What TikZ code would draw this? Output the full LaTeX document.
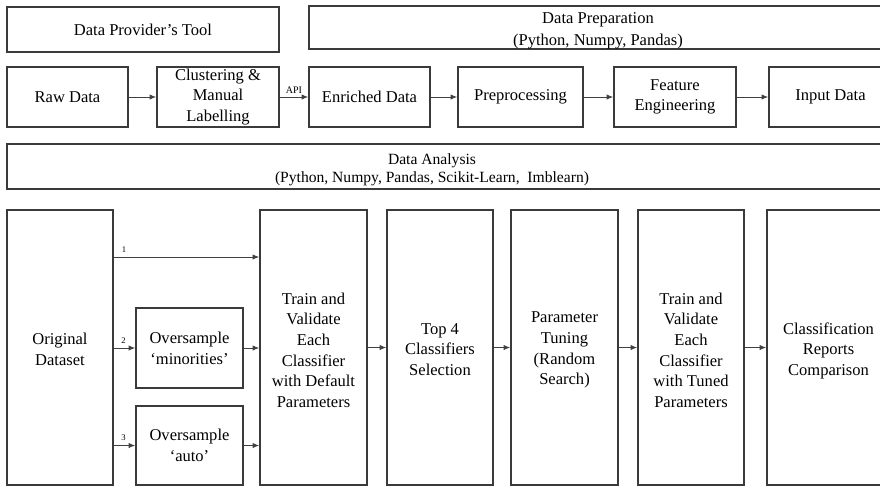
\documentclass[tikz,border=0pt]{standalone}
\usepackage{fontspec}
\setmainfont{Liberation Serif}
\usetikzlibrary{fit,arrows.meta}
\definecolor{boxc}{HTML}{3A3A3A}
\definecolor{arrc}{HTML}{404040}
\begin{document}
\begin{tikzpicture}[x=0.75pt,y=-0.75pt,
  box/.style={draw=boxc,line width=1.1pt,inner sep=0pt},
  arr/.style={draw=arrc,line width=0.7pt,-{Latex[length=5pt,width=4pt]}},
  txt/.style={inner sep=0pt,align=center,font=\fontsize{12.4}{15.5}\selectfont},
  small/.style={inner sep=0pt,font=\fontsize{7.5}{9}\selectfont},
  tiny/.style={inner sep=0pt,font=\fontsize{6.5}{8}\selectfont}]
\path[use as bounding box,clip] (0,0) rectangle (880,487);
% row 1
\node[box,fit={(7,7) (279,52)}] (tool) {};
\node[txt] (tooltxt) at (tool.center) {Data Provider’s Tool};
\node[box,fit={(309,6) (890,49)}] (prep) {};
\node[txt,font=\fontsize{12.4}{16.8}\selectfont] (preptxt) at (598,31) {Data Preparation\\(Python, Numpy, Pandas)};
% row 2
\node[box,fit={(7,67) (128,127)}] (raw) {};
\node[txt] (rawtxt) at (raw.center) {Raw Data};
\node[box,fit={(157,67) (279,127)}] (clus) {};
\node[txt] (clustxt) at (clus.center) {Clustering \&\\Manual\\Labelling};
\node[box,fit={(309,67) (430,127)}] (enr) {};
\node[txt] (enrtxt) at (enr.center) {Enriched Data};
\node[box,fit={(458,67) (583,127)}] (pre) {};
\node[txt] (pretxt) at (pre.center) {Preprocessing};
\node[box,fit={(614,67) (736,127)}] (feat) {};
\node[txt] (feattxt) at (feat.center) {Feature\\Engineering};
\node[box,fit={(769,67) (892,127)}] (inp) {};
\node[txt] (inptxt) at (inp.center) {Input Data};
\draw[arr] (raw) -- (clus);
\draw[arr] (clus) -- node[small,above=2pt] (api) {API} (enr);
\draw[arr] (enr) -- (pre);
\draw[arr] (pre) -- (feat);
\draw[arr] (feat) -- (inp);
% row 3
\node[box,fit={(7,144) (900,189)}] (ana) {};
\node[txt,font=\fontsize{11.7}{13.6}\selectfont] (anatxt) at (432,169.5) {Data Analysis\\(Python, Numpy, Pandas, Scikit-Learn,\ \ Imblearn)};
% row 4
\node[box,fit={(7,210) (113,485)}] (orig) {};
\node[txt] (origtxt) at ([yshift=-1.5pt]orig.center) {Original\\Dataset};
\node[box,fit={(136,308) (243,388)}] (omin) {};
\node[txt] (omintxt) at (omin.center) {Oversample\\‘minorities’};
\node[box,fit={(136,406) (243,485)}] (oauto) {};
\node[txt] (oautotxt) at (oauto.center) {Oversample\\‘auto’};
\node[box,fit={(260,210) (367,485)}] (train) {};
\node[txt] (traintxt) at ([yshift=-2pt]train.center) {Train and\\Validate\\Each\\Classifier\\with Default\\Parameters};
\node[box,fit={(387,210) (493,485)}] (top) {};
\node[txt] (toptxt) at ([yshift=-1.5pt]top.center) {Top 4\\Classifiers\\Selection};
\node[box,fit={(511,210) (618,485)}] (param) {};
\node[txt] (paramtxt) at ([yshift=-2pt]param.center) {Parameter\\Tuning\\(Random\\Search)};
\node[box,fit={(638,210) (744,485)}] (tuned) {};
\node[txt] (tunedtxt) at ([yshift=-2pt]tuned.center) {Train and\\Validate\\Each\\Classifier\\with Tuned\\Parameters};
\node[box,fit={(767,210) (890,485)}] (rep) {};
\node[txt] (reptxt) at ([yshift=-2.5pt]rep.center) {Classification\\Reports\\Comparison};
\coordinate (r1) at (0,257);
\draw[arr] (orig.east |- r1) -- node[tiny,pos=0.07,above=3pt] (l1) {1} (train.west |- r1);
\draw[arr] (orig.east |- omin) -- node[tiny,pos=0.45,above=3pt] (l2) {2} (omin.west);
\draw[arr] (omin.east) -- (train.west |- omin);
\draw[arr] (orig.east |- oauto) -- node[tiny,pos=0.45,above=3pt] (l3) {3} (oauto.west);
\draw[arr] (oauto.east) -- (train.west |- oauto);
\draw[arr] (train) -- (top);
\draw[arr] (top) -- (param);
\draw[arr] (param) -- (tuned);
\draw[arr] (tuned) -- (rep);
\end{tikzpicture}
\end{document}
